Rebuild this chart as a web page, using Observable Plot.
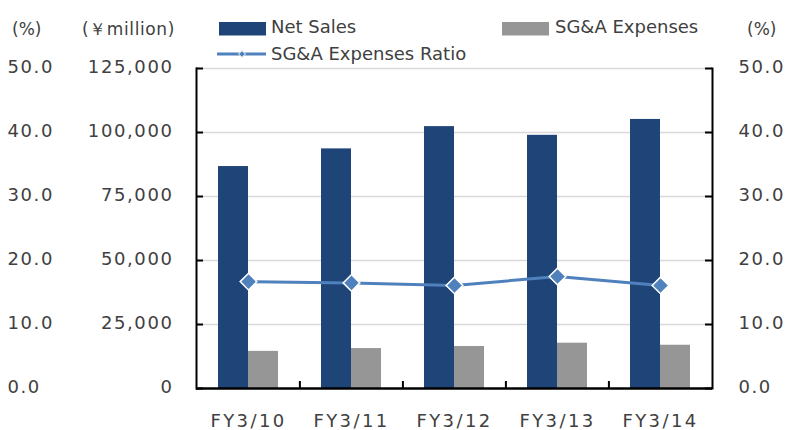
<!DOCTYPE html>
<html>
<head>
<meta charset="utf-8">
<script src="https://cdn.jsdelivr.net/npm/d3@7"></script>
<script src="https://cdn.jsdelivr.net/npm/@observablehq/plot@0.6"></script>
<style>
  body { margin: 0; background: #fff; }
  #wrap { position: relative; width: 788px; height: 430px; }
  #legend { position: absolute; left: 0; top: 0; pointer-events: none; }
  [aria-label="y-axis tick label"] { letter-spacing: 1.6px; }
  [aria-label="x-axis tick label"] { letter-spacing: 2.4px; }
</style>
</head>
<body>
<div id="wrap"></div>
<script>
const categories = ["FY3/10", "FY3/11", "FY3/12", "FY3/13", "FY3/14"];
const netSales = [86700, 93600, 102300, 98900, 105100];      // ¥ million
const sgaExpenses = [14500, 15600, 16400, 17700, 16900];     // ¥ million
const sgaRatio = [16.7, 16.5, 16.1, 17.5, 16.1];             // %
const yTicks = [0, 25000, 50000, 75000, 100000, 125000];
const PCT = 2500; // 50.0% ↔ 125,000

const data = categories.map((c, i) => ({
  cat: c, sales: netSales[i], sga: sgaExpenses[i], ratio: sgaRatio[i]
}));

const navy = "#1f4478", gray = "#969696", blue = "#4f81bd", ink = "#404040";
const pctFmt = d => (d / PCT).toFixed(1);

const chart = Plot.plot({
  width: 788, height: 430,
  marginLeft: 196, marginRight: 76, marginTop: 68, marginBottom: 42,
  style: { fontFamily: "DejaVu Sans", fontSize: "18px", color: ink, background: "#fff", overflow: "visible" },
  x: { domain: categories, paddingInner: 0.42, paddingOuter: 0.21, axis: null },
  y: { domain: [0, 125000], axis: null },
  marks: [
    Plot.ruleY(yTicks.slice(1), { stroke: "#d9d9d9", strokeWidth: 1.6 }),
    Plot.barY(data, { x: "cat", y: "sales", fill: navy, insetRight: 30 }),
    Plot.barY(data, { x: "cat", y: "sga", fill: gray, insetLeft: 30 }),
    Plot.line(data, { x: "cat", y: d => d.ratio * PCT, stroke: blue, strokeWidth: 3 }),
    Plot.dot(data, { x: "cat", y: d => d.ratio * PCT, symbol: "diamond2", r: 7.5, fill: blue, stroke: "#fff", strokeWidth: 1.5 }),
    Plot.frame({ anchor: "left", stroke: "#000", strokeWidth: 2 }),
    Plot.frame({ anchor: "right", stroke: "#000", strokeWidth: 2 }),
    Plot.ruleY([0], { stroke: "#000", strokeWidth: 2.5 }),
    Plot.tickY(yTicks, { y: d => d, insetRight: 509, stroke: "#000", strokeWidth: 2 }),
    Plot.tickY(yTicks, { y: d => d, insetLeft: 509, stroke: "#000", strokeWidth: 2 }),
    Plot.tickX(categories.slice(1), { x: d => d, dx: -51.6, insetTop: 313, stroke: "#000", strokeWidth: 2 }),
    Plot.axisY({ ticks: yTicks, anchor: "left", label: null, tickSize: 0, tickPadding: 0, textAnchor: "start", dx: -189, dy: -1, tickFormat: pctFmt }),
    Plot.axisY({ ticks: yTicks, anchor: "left", label: null, tickSize: 0, tickPadding: 23, dy: -1, tickFormat: d3.format(",") }),
    Plot.axisY({ ticks: yTicks, anchor: "right", label: null, tickSize: 0, tickPadding: 26, dy: -1, tickFormat: pctFmt }),
    Plot.axisX({ anchor: "bottom", label: null, tickSize: 0, tickPadding: 25.5 })
  ]
});
document.getElementById("wrap").appendChild(chart);

// legend and unit labels
const lg = d3.select("#wrap").append("svg").attr("id", "legend")
  .attr("width", 788).attr("height", 66)
  .style("font-family", "DejaVu Sans").style("fill", ink);

lg.append("text").attr("x", 12).attr("y", 35).attr("font-size", 17).text("(%)");
lg.append("text").attr("x", 82).attr("y", 35).attr("font-size", 17).attr("letter-spacing", "0.6px").text("(￥million)");
lg.append("text").attr("x", 747).attr("y", 35).attr("font-size", 17).text("(%)");

lg.append("rect").attr("x", 219).attr("y", 22).attr("width", 47).attr("height", 13.5).attr("fill", navy);
lg.append("text").attr("x", 271).attr("y", 33).attr("font-size", 18).text("Net Sales");

lg.append("rect").attr("x", 502).attr("y", 22).attr("width", 47).attr("height", 13.5).attr("fill", gray);
lg.append("text").attr("x", 555).attr("y", 33).attr("font-size", 18).text("SG&A Expenses");

lg.append("line").attr("x1", 217).attr("x2", 266).attr("y1", 54).attr("y2", 54)
  .attr("stroke", blue).attr("stroke-width", 3);
lg.append("path").attr("d", d3.symbol(d3.symbolDiamond2, 30)()).attr("transform", "translate(242,54)")
  .attr("fill", blue).attr("stroke", "#fff").attr("stroke-width", 1);
lg.append("text").attr("x", 271).attr("y", 60).attr("font-size", 18).text("SG&A Expenses Ratio");
</script>
</body>
</html>
